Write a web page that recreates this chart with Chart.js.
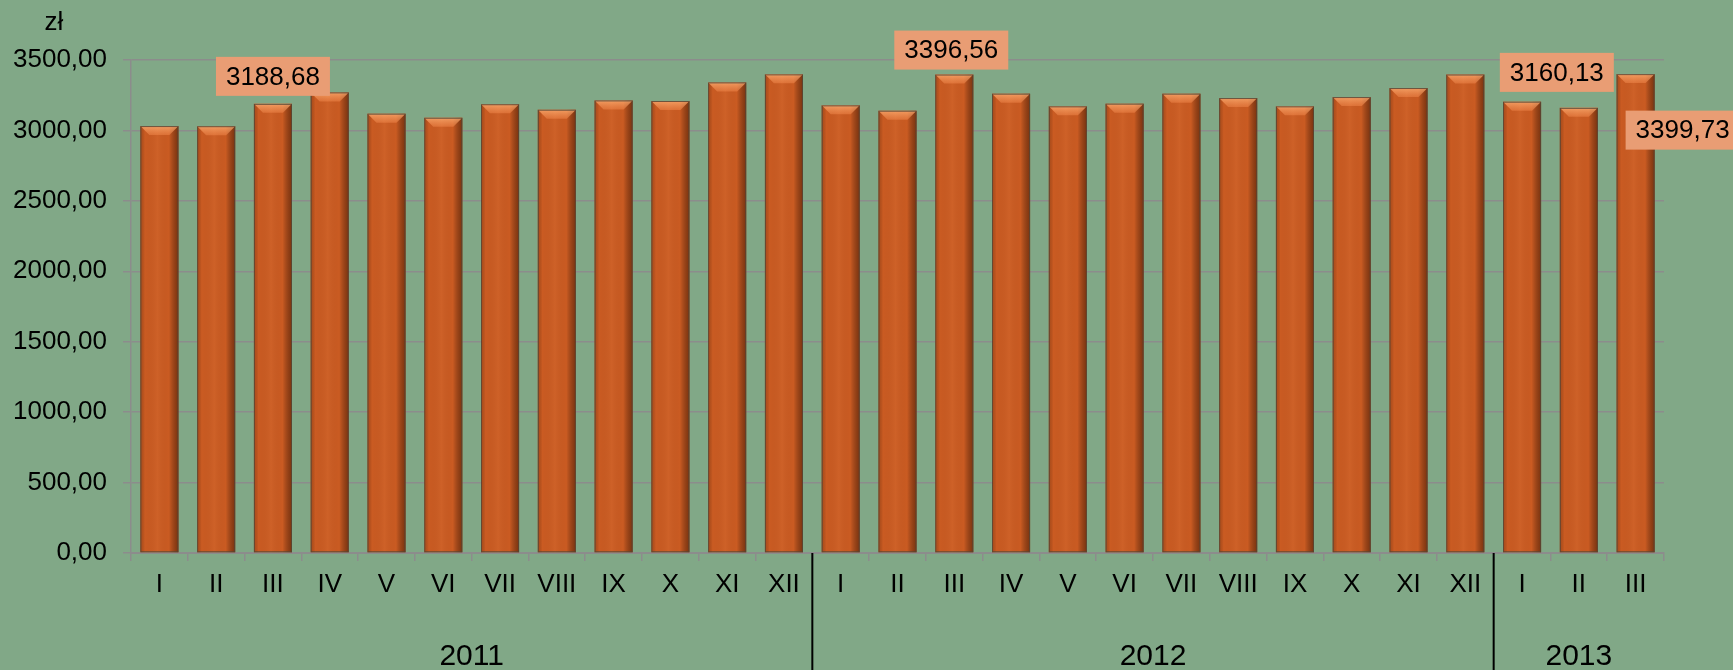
<!DOCTYPE html>
<html>
<head>
<meta charset="utf-8">
<script src="https://cdn.jsdelivr.net/npm/chart.js@4.4.1/dist/chart.umd.min.js"></script>
<style>
  html, body { margin: 0; padding: 0; background: #81a887; }
  #wrap { width: 1733px; height: 670px; position: relative; }
</style>
</head>
<body>
<div id="wrap"><canvas id="wynagrodzenia" width="1733" height="670"></canvas></div>
<script>
// miesiace i lata
var months = ['I', 'II', 'III', 'IV', 'V', 'VI', 'VII', 'VIII', 'IX', 'X', 'XI', 'XII'];
var years = ['2011', '2012', '2013'];

// przecietne wynagrodzenie (zl)
var values2011 = [3031, 3030, 3188.68, 3270, 3119, 3090, 3186, 3147, 3213, 3209, 3341, 3398];
var values2012 = [3178, 3140, 3396.56, 3261, 3171, 3190, 3261, 3230, 3171, 3237, 3301, 3397];
var values2013 = [3204, 3160.13, 3399.73];

// os Y
var yMin = 0;
var yMax = 3500;
var yStep = 500;

// ktore slupki maja etykiete z wartoscia
var labeledBars = [2, 14, 25, 26];

var labels = months.concat(months, months.slice(0, values2013.length));
var data = values2011.concat(values2012, values2013);
var groupSizes = [values2011.length, values2012.length, values2013.length];

var fontFamily = "'Liberation Sans', Arial, sans-serif";
var gridColor = '#8c8c8c';

function fmt(v) {
    return v.toFixed(2).replace('.', ',');
}

// cieniowanie slupkow (efekt 3D)
var bevelPlugin = {
    id: 'bevel',
    afterDatasetsDraw: function (chart) {
        var ctx = chart.ctx;
        var meta = chart.getDatasetMeta(0);
        meta.data.forEach(function (bar) {
            var left = bar.x - bar.width / 2;
            var right = bar.x + bar.width / 2;
            var top = bar.y;
            var bottom = bar.base;
            ctx.save();
            var g = ctx.createLinearGradient(left, 0, right, 0);
            g.addColorStop(0, 'rgba(110,45,10,0.30)');
            g.addColorStop(0.12, 'rgba(0,0,0,0)');
            g.addColorStop(0.45, 'rgba(255,170,110,0.08)');
            g.addColorStop(0.75, 'rgba(0,0,0,0)');
            g.addColorStop(1, 'rgba(60,20,0,0.55)');
            ctx.fillStyle = g;
            ctx.fillRect(left, top, right - left, bottom - top);
            // gorna fazka
            var b = 9;
            ctx.beginPath();
            ctx.moveTo(left, top);
            ctx.lineTo(right, top);
            ctx.lineTo(right - b, top + b);
            ctx.lineTo(left + b, top + b);
            ctx.closePath();
            var g2 = ctx.createLinearGradient(0, top, 0, top + b);
            g2.addColorStop(0, 'rgba(255,180,120,0.75)');
            g2.addColorStop(1, 'rgba(245,140,80,0.45)');
            ctx.fillStyle = g2;
            ctx.fill();
            ctx.strokeStyle = 'rgba(85,70,55,0.85)';
            ctx.lineWidth = 1;
            ctx.strokeRect(left + 0.5, top + 0.5, right - left - 1, bottom - top - 1);
            ctx.restore();
        });
    }
};

// lata, separatory, etykiety wartosci, jednostka
var extrasPlugin = {
    id: 'extras',
    afterDraw: function (chart, args, opts) {
        var ctx = chart.ctx;
        var x = chart.scales.x;
        var area = chart.chartArea;
        ctx.save();
        ctx.fillStyle = '#000';
        ctx.textAlign = 'center';
        ctx.textBaseline = 'middle';

        // jednostka
        ctx.font = '26px ' + fontFamily;
        ctx.fillText('zł', 54, 23);

        // lata i separatory
        ctx.font = '30px ' + fontFamily;
        var start = 0;
        groupSizes.forEach(function (n, i) {
            var first = x.getPixelForValue(start);
            var last = x.getPixelForValue(start + n - 1);
            ctx.fillText(years[i], (first + last) / 2, 657);
            if (i > 0) {
                var sep = (x.getPixelForValue(start - 1) + first) / 2;
                ctx.strokeStyle = '#000';
                ctx.lineWidth = 2;
                ctx.beginPath();
                ctx.moveTo(sep, area.bottom);
                ctx.lineTo(sep, chart.height);
                ctx.stroke();
            }
            start += n;
        });

        // etykiety z wartosciami
        ctx.font = '26px ' + fontFamily;
        var meta = chart.getDatasetMeta(0);
        opts.items.forEach(function (it) {
            var bar = meta.data[it.index];
            var txt = fmt(data[it.index]);
            var w = ctx.measureText(txt).width + 20;
            var h = 39;
            var bx, by;
            if (it.mode === 'right') {
                bx = bar.x + it.dx;
                by = bar.y + it.dy - h / 2;
            } else {
                bx = bar.x + it.dx - w / 2;
                by = bar.y - it.dy - h;
            }
            ctx.fillStyle = '#e99d74';
            ctx.fillRect(bx, by, w, h);
            ctx.fillStyle = '#000';
            ctx.fillText(txt, bx + w / 2, by + h / 2 + 1);
        });
        ctx.restore();
    }
};

var ctx = document.getElementById('wynagrodzenia').getContext('2d');
var chart = new Chart(ctx, {
    type: 'bar',
    data: {
        labels: labels,
        datasets: [{
            label: 'Przeciętne wynagrodzenie',
            data: data,
            backgroundColor: '#ca5b22',
            borderWidth: 0,
            barPercentage: 0.67,
            categoryPercentage: 1.0
        }]
    },
    options: {
        responsive: false,
        animation: false,
        devicePixelRatio: 1,
        layout: {
            padding: { left: 0, right: 69, top: 60, bottom: 0 }
        },
        plugins: {
            legend: { display: false },
            tooltip: { enabled: false },
            extras: {
                items: [
                    { index: labeledBars[0], dx: 0, dy: 8 },
                    { index: labeledBars[1], dx: -3, dy: 5 },
                    { index: labeledBars[2], dx: -22, dy: 16 },
                    { index: labeledBars[3], mode: 'right', dx: -10, dy: 56 }
                ]
            }
        },
        scales: {
            x: {
                offset: true,
                grid: {
                    offset: true,
                    drawOnChartArea: false,
                    drawTicks: true,
                    tickLength: 8,
                    color: gridColor,
                    lineWidth: 1.5
                },
                border: { display: true, color: gridColor, width: 2 },
                ticks: {
                    autoSkip: false,
                    maxRotation: 0,
                    padding: 8,
                    color: '#000',
                    font: { family: fontFamily, size: 26 }
                },
                afterFit: function (scale) { scale.height = 117; }
            },
            y: {
                min: yMin,
                max: yMax,
                ticks: {
                    stepSize: yStep,
                    padding: 16,
                    color: '#000',
                    font: { family: fontFamily, size: 26 },
                    callback: function (v) { return fmt(v); }
                },
                grid: {
                    color: gridColor,
                    lineWidth: 1.5,
                    tickLength: 8
                },
                border: { display: true, color: gridColor, width: 1.5 },
                afterFit: function (scale) { scale.width = 131; }
            }
        }
    },
    plugins: [bevelPlugin, extrasPlugin]
});
</script>
</body>
</html>
